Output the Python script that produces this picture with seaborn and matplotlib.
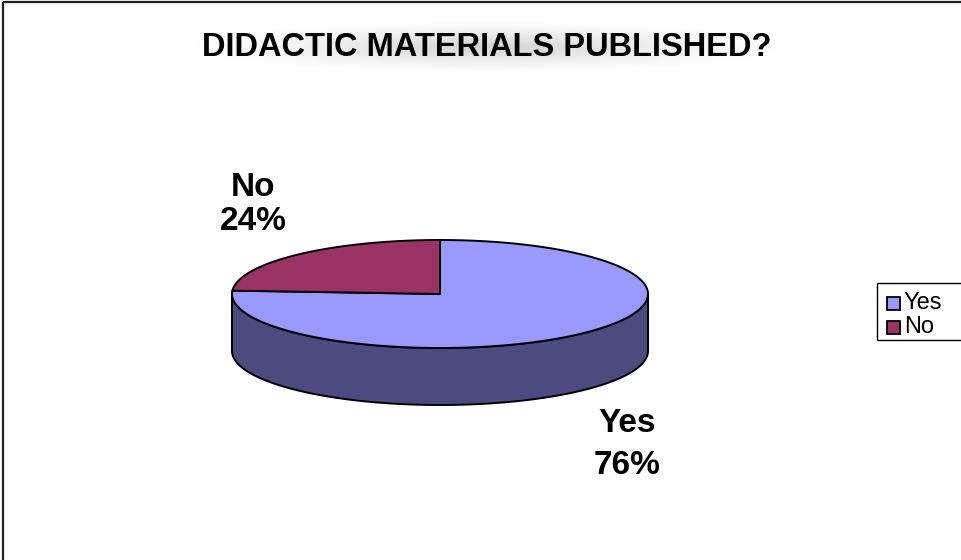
import numpy as np
import matplotlib
matplotlib.use("Agg")
import matplotlib.pyplot as plt
from matplotlib.patches import Polygon, Rectangle
import seaborn as sns

# ---- data ----
categories = ["Yes", "No"]
values = [76, 24]
top_colors = ["#9999FF", "#993366"]
side_colors = ["#4B4B80", "#5E1F40"]
title_text = "DIDACTIC MATERIALS PUBLISHED?"

sns.set_theme(style="white")
plt.rcParams['font.family'] = ['Liberation Sans', 'DejaVu Sans']
plt.rcParams['text.color'] = 'black'

W, H = 962, 560
fig = plt.figure(figsize=(W / 100, H / 100), dpi=100)
ax = fig.add_axes([0, 0, 1, 1])
ax.set_xlim(0, W)
ax.set_ylim(H, 0)
ax.axis("off")

# outer chart border (left and top visible)
ax.plot([3, 3], [H, 1.5], color="#222222", lw=1.6, solid_capstyle="butt")
ax.plot([3, W], [1.5, 1.5], color="#222222", lw=1.6, solid_capstyle="butt")

# soft glow behind title
gx = np.linspace(-1, 1, 300)
gy = np.linspace(-1, 1, 60)
GX, GY = np.meshgrid(gx, gy)
glow = np.clip(1 - np.sqrt((GX * 0.95) ** 2 + (GY * 1.0) ** 2), 0, 1) ** 1.3
rgba = np.zeros((60, 300, 4))
rgba[..., :3] = 0.6
rgba[..., 3] = glow * 0.45
ax.imshow(rgba, extent=[195, 780, 74, 20], zorder=1, interpolation="bilinear", aspect="auto")

ax.text(487, 47, title_text, ha="center", va="center", fontsize=23.5,
        fontweight="bold", color="black", zorder=2)

# ---- 3D pie ----
cx, cy, rx, ry, depth = 440, 294, 208, 54, 57
total = float(sum(values))
start = 90.0
# slices: "No" counterclockwise from 12 o'clock, "Yes" takes the remainder
angles = {}
no_span = 360.0 * values[1] / total
angles["No"] = (start, start + no_span)
angles["Yes"] = (start + no_span, start + 360.0)


def ell(t_deg, dy=0.0):
    t = np.radians(t_deg)
    return cx + rx * np.cos(t), cy - ry * np.sin(t) + dy


# side walls (visible front half 180..360)
for cat, col in zip(categories, side_colors):
    a0, a1 = angles[cat]
    for off in (0, 360, -360):
        lo = max(a0 + off, 180)
        hi = min(a1 + off, 360)
        if hi > lo:
            ts = np.linspace(lo, hi, 200)
            xs, ys = ell(ts)
            xb, yb = ell(ts[::-1], depth)
            pts = np.column_stack([np.concatenate([xs, xb]), np.concatenate([ys, yb])])
            ax.add_patch(Polygon(pts, closed=True, facecolor=col, edgecolor="black",
                                 lw=1.4, zorder=3, joinstyle="round"))

# top faces
for cat, col in zip(categories, top_colors):
    a0, a1 = angles[cat]
    ts = np.linspace(a0, a1, 400)
    xs, ys = ell(ts)
    pts = np.column_stack([np.concatenate([[cx], xs]), np.concatenate([[cy], ys])])
    ax.add_patch(Polygon(pts, closed=True, facecolor=col, edgecolor="black",
                         lw=1.4, zorder=4, joinstyle="round"))

# data labels (name line, percent line)
label_pos = {"No": (253, 187, 222), "Yes": (627, 423, 465)}
for cat, v in zip(categories, values):
    x, y1, y2 = label_pos[cat]
    ax.text(x, y1, cat, ha="center", va="center", fontsize=24,
            fontweight="bold", color="black", zorder=5)
    ax.text(x, y2, f"{v}%", ha="center", va="center", fontsize=24,
            fontweight="bold", color="black", zorder=5)

# legend
ax.add_patch(Rectangle((877, 283), 90, 57, facecolor="white", edgecolor="black",
                       lw=1.0, zorder=5))
leg_y = [303, 327]
for cat, col, y in zip(categories, top_colors, leg_y):
    ax.add_patch(Rectangle((887, y - 6.5), 13, 13, facecolor=col, edgecolor="black",
                           lw=1.3, zorder=6))
    ax.text(904, y, cat, ha="left", va="center", fontsize=17, color="black", zorder=6)

fig.savefig("out.png", dpi=100)
